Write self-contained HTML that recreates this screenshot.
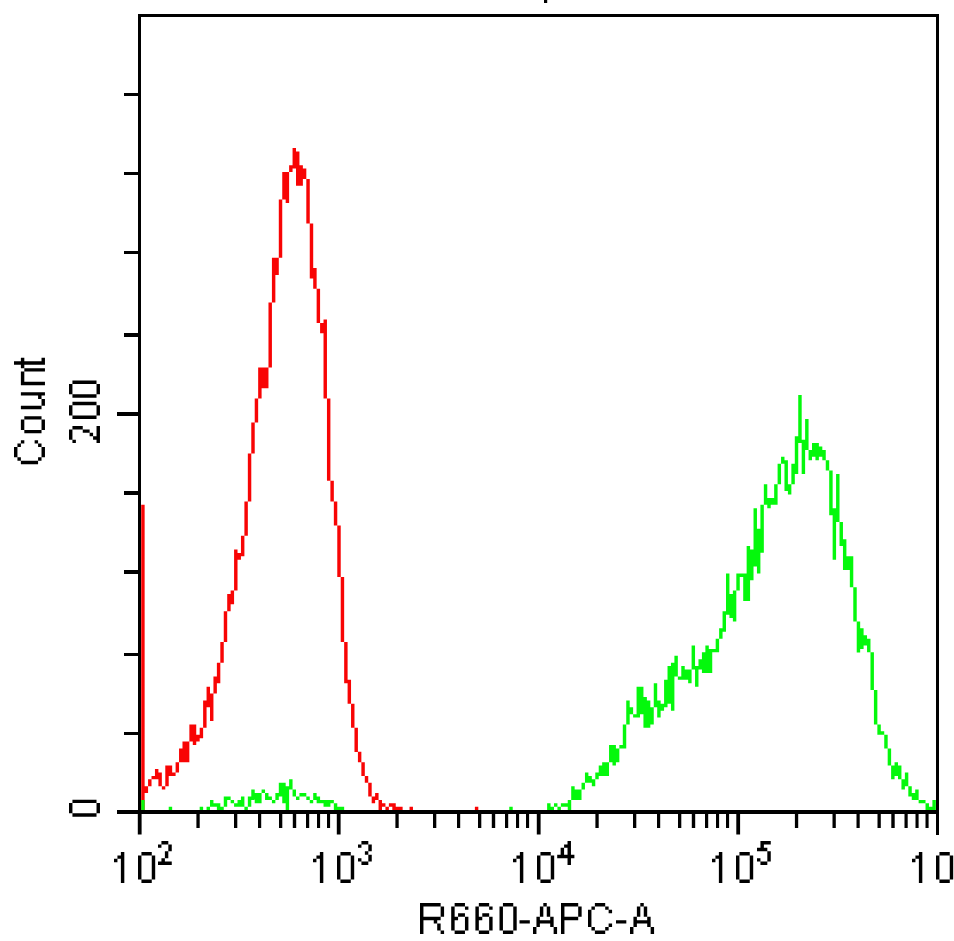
<!DOCTYPE html>
<html><head><meta charset="utf-8"><title>R660-APC-A histogram</title>
<style>
html,body{margin:0;padding:0;width:954px;height:941px;overflow:hidden;background:#fff;font-family:"Liberation Sans",sans-serif;}
svg{display:block;position:absolute;left:0;top:0;}
</style></head><body>
<svg width="954" height="941" viewBox="0 0 954 941">
<rect width="954" height="941" fill="#fff"/>
<path fill="#f80404" d="M141.2 504.84h3.44v305.36h-3.44zM144.64 786.18h3.44v6.86h-3.44zM148.08 779.32h3.44v6.86h-3.44zM151.52 775.89h3.44v3.43h-3.44zM154.96 769.03h3.44v10.29h-3.44zM158.4 772.46h3.44v13.72h-3.44zM161.84 786.18h3.44v3.43h-3.44zM165.28 765.6h3.44v20.59h-3.44zM168.72 765.6h3.44v10.29h-3.44zM172.16 772.46h3.44v3.43h-3.44zM175.6 762.17h3.44v10.29h-3.44zM179.04 748.44h3.44v13.72h-3.44zM182.48 741.58h3.44v20.59h-3.44zM185.92 741.58h3.44v20.59h-3.44zM189.36 724.43h3.44v17.15h-3.44zM192.8 724.43h3.44v20.59h-3.44zM196.24 734.72h3.44v6.86h-3.44zM199.68 727.86h3.44v10.29h-3.44zM203.12 700.41h3.44v27.45h-3.44zM206.56 686.68h3.44v20.59h-3.44zM210 693.55h3.44v27.45h-3.44zM213.44 676.39h3.44v17.15h-3.44zM216.88 662.67h3.44v20.59h-3.44zM220.32 642.08h3.44v20.59h-3.44zM223.76 611.2h3.44v30.88h-3.44zM227.2 594.05h3.44v17.15h-3.44zM230.64 590.62h3.44v13.72h-3.44zM234.08 549.44h3.44v41.17h-3.44zM237.52 552.88h3.44v6.86h-3.44zM240.96 535.72h3.44v20.59h-3.44zM244.4 501.41h3.44v34.31h-3.44zM247.84 453.38h3.44v48.03h-3.44zM251.28 422.5h3.44v30.88h-3.44zM254.72 398.48h3.44v24.02h-3.44zM258.16 367.6h3.44v30.88h-3.44zM261.6 367.6h3.44v20.59h-3.44zM265.04 367.6h3.44v20.59h-3.44zM268.48 302.41h3.44v65.19h-3.44zM271.92 257.81h3.44v44.6h-3.44zM275.36 257.81h3.44v17.15h-3.44zM278.8 199.48h3.44v58.33h-3.44zM282.24 172.03h3.44v27.45h-3.44zM285.68 172.03h3.44v30.88h-3.44zM289.12 165.17h3.44v6.86h-3.44zM292.56 148.02h3.44v20.59h-3.44zM296 151.45h3.44v34.31h-3.44zM299.44 165.17h3.44v20.59h-3.44zM302.88 168.6h3.44v10.29h-3.44zM306.32 178.9h3.44v44.6h-3.44zM309.76 223.5h3.44v54.9h-3.44zM313.2 268.1h3.44v20.59h-3.44zM316.64 288.69h3.44v34.31h-3.44zM320.08 323h3.44v10.29h-3.44zM323.52 319.57h3.44v78.91h-3.44zM326.96 398.48h3.44v82.34h-3.44zM330.4 480.82h3.44v20.59h-3.44zM333.84 501.41h3.44v24.02h-3.44zM337.28 525.43h3.44v51.47h-3.44zM340.72 576.89h3.44v65.19h-3.44zM344.16 642.08h3.44v41.17h-3.44zM347.6 679.82h3.44v24.02h-3.44zM351.04 703.84h3.44v24.02h-3.44zM354.48 727.86h3.44v24.02h-3.44zM357.92 751.87h3.44v10.29h-3.44zM361.36 762.17h3.44v13.72h-3.44zM364.8 775.89h3.44v6.86h-3.44zM368.24 782.75h3.44v13.72h-3.44zM371.68 796.48h3.44v6.86h-3.44zM375.12 793.05h3.44v6.86h-3.44zM378.56 799.91h3.44v10.29h-3.44zM382 803.34h3.44v3.43h-3.44zM385.44 806.77h3.44v3.43h-3.44zM388.88 803.34h3.44v3.43h-3.44zM392.32 803.34h3.44v6.86h-3.44zM395.76 806.77h3.44v3.43h-3.44zM399.2 806.77h3.44v3.43h-3.44zM409.52 806.77h3.44v3.43h-3.44zM474.88 806.77h3.44v3.43h-3.44z"/>
<path fill="#04f80c" d="M141.2 799.91h3.44v10.29h-3.44zM168.72 806.77h3.44v3.43h-3.44zM199.68 806.77h3.44v3.43h-3.44zM206.56 806.77h3.44v3.43h-3.44zM210 799.91h3.44v6.86h-3.44zM213.44 803.34h3.44v3.43h-3.44zM216.88 803.34h3.44v6.86h-3.44zM220.32 806.77h3.44v3.43h-3.44zM223.76 796.48h3.44v10.29h-3.44zM227.2 796.48h3.44v3.43h-3.44zM230.64 799.91h3.44v3.43h-3.44zM234.08 803.34h3.44v3.43h-3.44zM237.52 799.91h3.44v6.86h-3.44zM240.96 796.48h3.44v10.29h-3.44zM244.4 806.77h3.44v3.43h-3.44zM247.84 796.48h3.44v10.29h-3.44zM251.28 789.61h3.44v10.29h-3.44zM254.72 793.05h3.44v10.29h-3.44zM258.16 793.05h3.44v10.29h-3.44zM261.6 789.61h3.44v3.43h-3.44zM265.04 793.05h3.44v6.86h-3.44zM268.48 796.48h3.44v3.43h-3.44zM271.92 799.91h3.44v3.43h-3.44zM275.36 793.05h3.44v6.86h-3.44zM278.8 782.75h3.44v13.72h-3.44zM282.24 782.75h3.44v20.59h-3.44zM285.68 786.18h3.44v24.02h-3.44zM289.12 779.32h3.44v10.29h-3.44zM292.56 789.61h3.44v6.86h-3.44zM296 796.48h3.44v3.43h-3.44zM299.44 793.05h3.44v3.43h-3.44zM302.88 793.05h3.44v3.43h-3.44zM306.32 796.48h3.44v3.43h-3.44zM309.76 799.91h3.44v3.43h-3.44zM313.2 793.05h3.44v6.86h-3.44zM316.64 796.48h3.44v6.86h-3.44zM320.08 799.91h3.44v3.43h-3.44zM323.52 799.91h3.44v6.86h-3.44zM326.96 799.91h3.44v6.86h-3.44zM330.4 799.91h3.44v3.43h-3.44zM333.84 803.34h3.44v6.86h-3.44zM337.28 806.77h3.44v3.43h-3.44zM340.72 806.77h3.44v3.43h-3.44zM509.28 806.77h3.44v3.43h-3.44zM547.12 803.34h3.44v6.86h-3.44zM550.56 806.77h3.44v3.43h-3.44zM554 803.34h3.44v3.43h-3.44zM557.44 806.77h3.44v3.43h-3.44zM560.88 803.34h3.44v3.43h-3.44zM564.32 803.34h3.44v3.43h-3.44zM567.76 799.91h3.44v10.29h-3.44zM571.2 786.18h3.44v13.72h-3.44zM574.64 789.61h3.44v10.29h-3.44zM578.08 789.61h3.44v10.29h-3.44zM581.52 782.75h3.44v6.86h-3.44zM584.96 772.46h3.44v10.29h-3.44zM588.4 775.89h3.44v6.86h-3.44zM591.84 779.32h3.44v6.86h-3.44zM595.28 772.46h3.44v6.86h-3.44zM598.72 765.6h3.44v10.29h-3.44zM602.16 762.17h3.44v13.72h-3.44zM605.6 762.17h3.44v13.72h-3.44zM609.04 745.01h3.44v17.15h-3.44zM612.48 745.01h3.44v20.59h-3.44zM615.92 748.44h3.44v13.72h-3.44zM619.36 745.01h3.44v3.43h-3.44zM622.8 724.43h3.44v24.02h-3.44zM626.24 700.41h3.44v24.02h-3.44zM629.68 707.27h3.44v6.86h-3.44zM633.12 714.13h3.44v3.43h-3.44zM636.56 686.68h3.44v30.88h-3.44zM640 686.68h3.44v27.45h-3.44zM643.44 696.98h3.44v30.88h-3.44zM646.88 700.41h3.44v27.45h-3.44zM650.32 707.27h3.44v17.16h-3.44zM653.76 683.25h3.44v24.02h-3.44zM657.2 700.41h3.44v17.16h-3.44zM660.64 703.84h3.44v6.86h-3.44zM664.08 679.82h3.44v27.45h-3.44zM667.52 666.1h3.44v37.74h-3.44zM670.96 662.67h3.44v48.03h-3.44zM674.4 655.81h3.44v20.59h-3.44zM677.84 676.39h3.44v3.43h-3.44zM681.28 666.1h3.44v13.72h-3.44zM684.72 669.53h3.44v10.29h-3.44zM688.16 669.53h3.44v13.72h-3.44zM691.6 645.51h3.44v24.02h-3.44zM695.04 666.1h3.44v20.59h-3.44zM698.48 659.24h3.44v10.29h-3.44zM701.92 652.37h3.44v20.59h-3.44zM705.36 645.51h3.44v27.45h-3.44zM708.8 648.94h3.44v24.02h-3.44zM712.24 648.94h3.44v3.43h-3.44zM715.68 638.65h3.44v13.72h-3.44zM719.12 628.36h3.44v10.29h-3.44zM722.56 611.2h3.44v20.59h-3.44zM726 573.46h3.44v41.17h-3.44zM729.44 594.05h3.44v24.02h-3.44zM732.88 590.62h3.44v30.88h-3.44zM736.32 573.46h3.44v17.15h-3.44zM739.76 573.46h3.44v3.43h-3.44zM743.2 573.46h3.44v27.45h-3.44zM746.64 546.01h3.44v54.9h-3.44zM750.08 549.44h3.44v30.88h-3.44zM753.52 508.27h3.44v58.33h-3.44zM756.96 528.86h3.44v44.6h-3.44zM760.4 504.84h3.44v48.03h-3.44zM763.84 484.26h3.44v20.59h-3.44zM767.28 497.98h3.44v10.29h-3.44zM770.72 497.98h3.44v6.86h-3.44zM774.16 484.26h3.44v20.59h-3.44zM777.6 463.67h3.44v20.59h-3.44zM781.04 456.81h3.44v6.86h-3.44zM784.48 460.24h3.44v30.88h-3.44zM787.92 484.26h3.44v10.29h-3.44zM791.36 463.67h3.44v20.59h-3.44zM794.8 436.22h3.44v37.74h-3.44zM798.24 395.05h3.44v48.03h-3.44zM801.68 439.65h3.44v34.31h-3.44zM805.12 419.07h3.44v30.88h-3.44zM808.56 449.95h3.44v10.29h-3.44zM812 443.08h3.44v13.72h-3.44zM815.44 443.08h3.44v17.16h-3.44zM818.88 446.51h3.44v10.29h-3.44zM822.32 449.95h3.44v10.29h-3.44zM825.76 460.24h3.44v10.29h-3.44zM829.2 470.53h3.44v44.6h-3.44zM832.64 508.27h3.44v51.47h-3.44zM836.08 473.96h3.44v48.03h-3.44zM839.52 522h3.44v24.02h-3.44zM842.96 539.15h3.44v30.88h-3.44zM846.4 556.31h3.44v13.72h-3.44zM849.84 556.31h3.44v30.88h-3.44zM853.28 587.19h3.44v34.31h-3.44zM856.72 621.5h3.44v30.88h-3.44zM860.16 628.36h3.44v20.59h-3.44zM863.6 635.22h3.44v10.29h-3.44zM867.04 638.65h3.44v13.72h-3.44zM870.48 652.37h3.44v37.74h-3.44zM873.92 690.12h3.44v34.31h-3.44zM877.36 724.43h3.44v10.29h-3.44zM880.8 731.29h3.44v3.43h-3.44zM884.24 734.72h3.44v13.72h-3.44zM887.68 748.44h3.44v17.16h-3.44zM891.12 765.6h3.44v13.72h-3.44zM894.56 762.17h3.44v13.72h-3.44zM898 765.6h3.44v13.72h-3.44zM901.44 779.32h3.44v10.29h-3.44zM904.88 772.46h3.44v13.72h-3.44zM908.32 786.18h3.44v10.29h-3.44zM911.76 793.05h3.44v6.86h-3.44zM915.2 789.61h3.44v10.29h-3.44zM918.64 799.91h3.44v3.43h-3.44zM922.08 799.91h3.44v3.43h-3.44zM925.52 803.34h3.44v6.86h-3.44zM928.96 806.77h3.44v3.43h-3.44zM932.4 799.91h3.44v10.29h-3.44z"/>
<path fill="#000" d="M138 14h3v800h-3zM138 14h801v3h-801zM936 14h3v821h-3zM117 810h822v4h-822zM124 93h14v3h-14zM124 172h14v3h-14zM124 251h14v3h-14zM124 333h14v4h-14zM124 491h14v4h-14zM124 570h14v4h-14zM124 653h14v3h-14zM124 732h14v3h-14zM117 412h21v4h-21zM137.8 814h3.8v20.5h-3.8zM196.4 814h3.3v14h-3.3zM234 814h3.3v14h-3.3zM258 814h3.2v14h-3.2zM279 814h3.3v14h-3.3zM292.8 814h3.4v14h-3.4zM306 814h3.2v14h-3.2zM317 814h3.1v14h-3.1zM327 814h3.1v14h-3.1zM336.8 814h3.8v20.5h-3.8zM395.4 814h3.3v14h-3.3zM433 814h3.3v14h-3.3zM457 814h3.2v14h-3.2zM478 814h3.3v14h-3.3zM491.8 814h3.4v14h-3.4zM505 814h3.2v14h-3.2zM516 814h3.1v14h-3.1zM526 814h3.1v14h-3.1zM536.8 814h3.8v20.5h-3.8zM595.4 814h3.3v14h-3.3zM633 814h3.3v14h-3.3zM657 814h3.2v14h-3.2zM678 814h3.3v14h-3.3zM691.8 814h3.4v14h-3.4zM705 814h3.2v14h-3.2zM716 814h3.1v14h-3.1zM726 814h3.1v14h-3.1zM736.3 814h3.8v20.5h-3.8zM794.9 814h3.3v14h-3.3zM832.5 814h3.3v14h-3.3zM856.5 814h3.2v14h-3.2zM877.5 814h3.3v14h-3.3zM891.3 814h3.4v14h-3.4zM904.5 814h3.2v14h-3.2zM915.5 814h3.1v14h-3.1zM925.5 814h3.1v14h-3.1zM544 0h3.2v3h-3.2zM120.88 852h3.44v3.43h-3.44zM117.44 855.43h6.88v3.43h-6.88zM114 858.86h3.44v3.43h-3.44zM120.88 858.86h3.44v3.43h-3.44zM120.88 862.29h3.44v3.43h-3.44zM120.88 865.72h3.44v3.43h-3.44zM120.88 869.15h3.44v3.43h-3.44zM120.88 872.59h3.44v3.43h-3.44zM120.88 876.02h3.44v3.43h-3.44zM120.88 879.45h3.44v3.43h-3.44zM319.88 852h3.44v3.43h-3.44zM316.44 855.43h6.88v3.43h-6.88zM313 858.86h3.44v3.43h-3.44zM319.88 858.86h3.44v3.43h-3.44zM319.88 862.29h3.44v3.43h-3.44zM319.88 865.72h3.44v3.43h-3.44zM319.88 869.15h3.44v3.43h-3.44zM319.88 872.59h3.44v3.43h-3.44zM319.88 876.02h3.44v3.43h-3.44zM319.88 879.45h3.44v3.43h-3.44zM519.88 852h3.44v3.43h-3.44zM516.44 855.43h6.88v3.43h-6.88zM513 858.86h3.44v3.43h-3.44zM519.88 858.86h3.44v3.43h-3.44zM519.88 862.29h3.44v3.43h-3.44zM519.88 865.72h3.44v3.43h-3.44zM519.88 869.15h3.44v3.43h-3.44zM519.88 872.59h3.44v3.43h-3.44zM519.88 876.02h3.44v3.43h-3.44zM519.88 879.45h3.44v3.43h-3.44zM718.88 852h3.44v3.43h-3.44zM715.44 855.43h6.88v3.43h-6.88zM712 858.86h3.44v3.43h-3.44zM718.88 858.86h3.44v3.43h-3.44zM718.88 862.29h3.44v3.43h-3.44zM718.88 865.72h3.44v3.43h-3.44zM718.88 869.15h3.44v3.43h-3.44zM718.88 872.59h3.44v3.43h-3.44zM718.88 876.02h3.44v3.43h-3.44zM718.88 879.45h3.44v3.43h-3.44zM918.88 852h3.44v3.43h-3.44zM915.44 855.43h6.88v3.43h-6.88zM912 858.86h3.44v3.43h-3.44zM918.88 858.86h3.44v3.43h-3.44zM918.88 862.29h3.44v3.43h-3.44zM918.88 865.72h3.44v3.43h-3.44zM918.88 869.15h3.44v3.43h-3.44zM918.88 872.59h3.44v3.43h-3.44zM918.88 876.02h3.44v3.43h-3.44zM918.88 879.45h3.44v3.43h-3.44zM141.44 852h10.32v3.43h-10.32zM138 855.43h3.44v3.43h-3.44zM151.76 855.43h3.44v3.43h-3.44zM138 858.86h3.44v3.43h-3.44zM151.76 858.86h3.44v3.43h-3.44zM138 862.29h3.44v3.43h-3.44zM151.76 862.29h3.44v3.43h-3.44zM138 865.72h3.44v3.43h-3.44zM151.76 865.72h3.44v3.43h-3.44zM138 869.15h3.44v3.43h-3.44zM151.76 869.15h3.44v3.43h-3.44zM138 872.59h3.44v3.43h-3.44zM151.76 872.59h3.44v3.43h-3.44zM138 876.02h3.44v3.43h-3.44zM151.76 876.02h3.44v3.43h-3.44zM141.44 879.45h10.32v3.43h-10.32zM340.44 852h10.32v3.43h-10.32zM337 855.43h3.44v3.43h-3.44zM350.76 855.43h3.44v3.43h-3.44zM337 858.86h3.44v3.43h-3.44zM350.76 858.86h3.44v3.43h-3.44zM337 862.29h3.44v3.43h-3.44zM350.76 862.29h3.44v3.43h-3.44zM337 865.72h3.44v3.43h-3.44zM350.76 865.72h3.44v3.43h-3.44zM337 869.15h3.44v3.43h-3.44zM350.76 869.15h3.44v3.43h-3.44zM337 872.59h3.44v3.43h-3.44zM350.76 872.59h3.44v3.43h-3.44zM337 876.02h3.44v3.43h-3.44zM350.76 876.02h3.44v3.43h-3.44zM340.44 879.45h10.32v3.43h-10.32zM540.44 852h10.32v3.43h-10.32zM537 855.43h3.44v3.43h-3.44zM550.76 855.43h3.44v3.43h-3.44zM537 858.86h3.44v3.43h-3.44zM550.76 858.86h3.44v3.43h-3.44zM537 862.29h3.44v3.43h-3.44zM550.76 862.29h3.44v3.43h-3.44zM537 865.72h3.44v3.43h-3.44zM550.76 865.72h3.44v3.43h-3.44zM537 869.15h3.44v3.43h-3.44zM550.76 869.15h3.44v3.43h-3.44zM537 872.59h3.44v3.43h-3.44zM550.76 872.59h3.44v3.43h-3.44zM537 876.02h3.44v3.43h-3.44zM550.76 876.02h3.44v3.43h-3.44zM540.44 879.45h10.32v3.43h-10.32zM739.44 852h10.32v3.43h-10.32zM736 855.43h3.44v3.43h-3.44zM749.76 855.43h3.44v3.43h-3.44zM736 858.86h3.44v3.43h-3.44zM749.76 858.86h3.44v3.43h-3.44zM736 862.29h3.44v3.43h-3.44zM749.76 862.29h3.44v3.43h-3.44zM736 865.72h3.44v3.43h-3.44zM749.76 865.72h3.44v3.43h-3.44zM736 869.15h3.44v3.43h-3.44zM749.76 869.15h3.44v3.43h-3.44zM736 872.59h3.44v3.43h-3.44zM749.76 872.59h3.44v3.43h-3.44zM736 876.02h3.44v3.43h-3.44zM749.76 876.02h3.44v3.43h-3.44zM739.44 879.45h10.32v3.43h-10.32zM939.44 852h10.32v3.43h-10.32zM936 855.43h3.44v3.43h-3.44zM949.76 855.43h3.44v3.43h-3.44zM936 858.86h3.44v3.43h-3.44zM949.76 858.86h3.44v3.43h-3.44zM936 862.29h3.44v3.43h-3.44zM949.76 862.29h3.44v3.43h-3.44zM936 865.72h3.44v3.43h-3.44zM949.76 865.72h3.44v3.43h-3.44zM936 869.15h3.44v3.43h-3.44zM949.76 869.15h3.44v3.43h-3.44zM936 872.59h3.44v3.43h-3.44zM949.76 872.59h3.44v3.43h-3.44zM936 876.02h3.44v3.43h-3.44zM949.76 876.02h3.44v3.43h-3.44zM939.44 879.45h10.32v3.43h-10.32zM161.44 841h6.88v3.43h-6.88zM158 844.43h3.44v3.43h-3.44zM168.32 844.43h3.44v3.43h-3.44zM168.32 847.86h3.44v3.43h-3.44zM164.88 851.29h3.44v3.43h-3.44zM164.88 854.72h3.44v3.43h-3.44zM161.44 858.15h3.44v3.43h-3.44zM158 861.59h13.76v3.43h-13.76zM361.44 841h6.88v3.43h-6.88zM358 844.43h3.44v3.43h-3.44zM368.32 844.43h3.44v3.43h-3.44zM368.32 847.86h3.44v3.43h-3.44zM364.88 851.29h3.44v3.43h-3.44zM368.32 854.72h3.44v3.43h-3.44zM358 858.15h3.44v3.43h-3.44zM368.32 858.15h3.44v3.43h-3.44zM361.44 861.59h6.88v3.43h-6.88zM567.52 841h3.44v3.43h-3.44zM564.08 844.43h6.88v3.43h-6.88zM560.64 847.86h3.44v3.43h-3.44zM567.52 847.86h3.44v3.43h-3.44zM560.64 851.29h3.44v3.43h-3.44zM567.52 851.29h3.44v3.43h-3.44zM557.2 854.72h17.2v3.43h-17.2zM567.52 858.15h3.44v3.43h-3.44zM567.52 861.59h3.44v3.43h-3.44zM760.44 841h10.32v3.43h-10.32zM760.44 844.43h3.44v3.43h-3.44zM757 847.86h10.32v3.43h-10.32zM767.32 851.29h3.44v3.43h-3.44zM767.32 854.72h3.44v3.43h-3.44zM757 858.15h3.44v3.43h-3.44zM767.32 858.15h3.44v3.43h-3.44zM760.44 861.59h6.88v3.43h-6.88zM420 903h20.64v3.43h-20.64zM420 906.43h3.44v3.43h-3.44zM440.64 906.43h3.44v3.43h-3.44zM420 909.86h3.44v3.43h-3.44zM440.64 909.86h3.44v3.43h-3.44zM420 913.29h3.44v3.43h-3.44zM440.64 913.29h3.44v3.43h-3.44zM420 916.72h20.64v3.43h-20.64zM420 920.15h3.44v3.43h-3.44zM433.76 920.15h3.44v3.43h-3.44zM420 923.59h3.44v3.43h-3.44zM437.2 923.59h3.44v3.43h-3.44zM420 927.02h3.44v3.43h-3.44zM437.2 927.02h3.44v3.43h-3.44zM420 930.45h3.44v3.43h-3.44zM440.64 930.45h3.44v3.43h-3.44zM454.64 903h10.32v3.43h-10.32zM451.2 906.43h3.44v3.43h-3.44zM464.96 906.43h3.44v3.43h-3.44zM451.2 909.86h3.44v3.43h-3.44zM451.2 913.29h3.44v3.43h-3.44zM458.08 913.29h6.88v3.43h-6.88zM451.2 916.72h6.88v3.43h-6.88zM464.96 916.72h3.44v3.43h-3.44zM451.2 920.15h3.44v3.43h-3.44zM464.96 920.15h3.44v3.43h-3.44zM451.2 923.59h3.44v3.43h-3.44zM464.96 923.59h3.44v3.43h-3.44zM451.2 927.02h3.44v3.43h-3.44zM464.96 927.02h3.44v3.43h-3.44zM454.64 930.45h10.32v3.43h-10.32zM478.84 903h10.32v3.43h-10.32zM475.4 906.43h3.44v3.43h-3.44zM489.16 906.43h3.44v3.43h-3.44zM475.4 909.86h3.44v3.43h-3.44zM475.4 913.29h3.44v3.43h-3.44zM482.28 913.29h6.88v3.43h-6.88zM475.4 916.72h6.88v3.43h-6.88zM489.16 916.72h3.44v3.43h-3.44zM475.4 920.15h3.44v3.43h-3.44zM489.16 920.15h3.44v3.43h-3.44zM475.4 923.59h3.44v3.43h-3.44zM489.16 923.59h3.44v3.43h-3.44zM475.4 927.02h3.44v3.43h-3.44zM489.16 927.02h3.44v3.43h-3.44zM478.84 930.45h10.32v3.43h-10.32zM502.94 903h10.32v3.43h-10.32zM499.5 906.43h3.44v3.43h-3.44zM513.26 906.43h3.44v3.43h-3.44zM499.5 909.86h3.44v3.43h-3.44zM513.26 909.86h3.44v3.43h-3.44zM499.5 913.29h3.44v3.43h-3.44zM513.26 913.29h3.44v3.43h-3.44zM499.5 916.72h3.44v3.43h-3.44zM513.26 916.72h3.44v3.43h-3.44zM499.5 920.15h3.44v3.43h-3.44zM513.26 920.15h3.44v3.43h-3.44zM499.5 923.59h3.44v3.43h-3.44zM513.26 923.59h3.44v3.43h-3.44zM499.5 927.02h3.44v3.43h-3.44zM513.26 927.02h3.44v3.43h-3.44zM502.94 930.45h10.32v3.43h-10.32zM519.5 920.15h10.32v3.43h-10.32zM543.32 903h3.44v3.43h-3.44zM539.88 906.43h3.44v3.43h-3.44zM546.76 906.43h3.44v3.43h-3.44zM539.88 909.86h3.44v3.43h-3.44zM546.76 909.86h3.44v3.43h-3.44zM539.88 913.29h3.44v3.43h-3.44zM546.76 913.29h3.44v3.43h-3.44zM536.44 916.72h3.44v3.43h-3.44zM550.2 916.72h3.44v3.43h-3.44zM536.44 920.15h17.2v3.43h-17.2zM536.44 923.59h3.44v3.43h-3.44zM550.2 923.59h3.44v3.43h-3.44zM533 927.02h3.44v3.43h-3.44zM553.64 927.02h3.44v3.43h-3.44zM533 930.45h3.44v3.43h-3.44zM553.64 930.45h3.44v3.43h-3.44zM561 903h17.2v3.43h-17.2zM561 906.43h3.44v3.43h-3.44zM578.2 906.43h3.44v3.43h-3.44zM561 909.86h3.44v3.43h-3.44zM578.2 909.86h3.44v3.43h-3.44zM561 913.29h3.44v3.43h-3.44zM578.2 913.29h3.44v3.43h-3.44zM561 916.72h17.2v3.43h-17.2zM561 920.15h3.44v3.43h-3.44zM561 923.59h3.44v3.43h-3.44zM561 927.02h3.44v3.43h-3.44zM561 930.45h3.44v3.43h-3.44zM594.88 903h10.32v3.43h-10.32zM591.44 906.43h3.44v3.43h-3.44zM605.2 906.43h3.44v3.43h-3.44zM588 909.86h3.44v3.43h-3.44zM608.64 909.86h3.44v3.43h-3.44zM588 913.29h3.44v3.43h-3.44zM588 916.72h3.44v3.43h-3.44zM588 920.15h3.44v3.43h-3.44zM588 923.59h3.44v3.43h-3.44zM608.64 923.59h3.44v3.43h-3.44zM591.44 927.02h3.44v3.43h-3.44zM605.2 927.02h3.44v3.43h-3.44zM594.88 930.45h10.32v3.43h-10.32zM616 920.15h10.32v3.43h-10.32zM640.32 903h3.44v3.43h-3.44zM636.88 906.43h3.44v3.43h-3.44zM643.76 906.43h3.44v3.43h-3.44zM636.88 909.86h3.44v3.43h-3.44zM643.76 909.86h3.44v3.43h-3.44zM636.88 913.29h3.44v3.43h-3.44zM643.76 913.29h3.44v3.43h-3.44zM633.44 916.72h3.44v3.43h-3.44zM647.2 916.72h3.44v3.43h-3.44zM633.44 920.15h17.2v3.43h-17.2zM633.44 923.59h3.44v3.43h-3.44zM647.2 923.59h3.44v3.43h-3.44zM630 927.02h3.44v3.43h-3.44zM650.64 927.02h3.44v3.43h-3.44zM630 930.45h3.44v3.43h-3.44zM650.64 930.45h3.44v3.43h-3.44zM14 447.04h3.44v10.29h-3.44zM17.44 457.34h3.44v3.43h-3.44zM17.44 443.61h3.44v3.43h-3.44zM20.88 460.77h3.44v3.43h-3.44zM20.88 440.18h3.44v3.43h-3.44zM24.32 460.77h3.44v3.43h-3.44zM27.76 460.77h3.44v3.43h-3.44zM31.2 460.77h3.44v3.43h-3.44zM34.64 460.77h3.44v3.43h-3.44zM34.64 440.18h3.44v3.43h-3.44zM38.08 457.34h3.44v3.43h-3.44zM38.08 443.61h3.44v3.43h-3.44zM41.52 447.04h3.44v10.29h-3.44zM20.88 419.6h3.44v10.29h-3.44zM24.32 429.89h3.44v3.43h-3.44zM24.32 416.17h3.44v3.43h-3.44zM27.76 429.89h3.44v3.43h-3.44zM27.76 416.17h3.44v3.43h-3.44zM31.2 429.89h3.44v3.43h-3.44zM31.2 416.17h3.44v3.43h-3.44zM34.64 429.89h3.44v3.43h-3.44zM34.64 416.17h3.44v3.43h-3.44zM38.08 429.89h3.44v3.43h-3.44zM38.08 416.17h3.44v3.43h-3.44zM41.52 419.6h3.44v10.29h-3.44zM20.88 405.87h3.44v3.43h-3.44zM20.88 392.15h3.44v3.43h-3.44zM24.32 405.87h3.44v3.43h-3.44zM24.32 392.15h3.44v3.43h-3.44zM27.76 405.87h3.44v3.43h-3.44zM27.76 392.15h3.44v3.43h-3.44zM31.2 405.87h3.44v3.43h-3.44zM31.2 392.15h3.44v3.43h-3.44zM34.64 405.87h3.44v3.43h-3.44zM34.64 392.15h3.44v3.43h-3.44zM38.08 405.87h3.44v3.43h-3.44zM38.08 392.15h3.44v6.86h-3.44zM41.52 399.01h3.44v6.86h-3.44zM41.52 392.15h3.44v3.43h-3.44zM20.88 371.56h3.44v13.72h-3.44zM24.32 381.86h3.44v3.43h-3.44zM24.32 368.13h3.44v3.43h-3.44zM27.76 381.86h3.44v3.43h-3.44zM27.76 368.13h3.44v3.43h-3.44zM31.2 381.86h3.44v3.43h-3.44zM31.2 368.13h3.44v3.43h-3.44zM34.64 381.86h3.44v3.43h-3.44zM34.64 368.13h3.44v3.43h-3.44zM38.08 381.86h3.44v3.43h-3.44zM38.08 368.13h3.44v3.43h-3.44zM41.52 381.86h3.44v3.43h-3.44zM41.52 368.13h3.44v3.43h-3.44zM14 361.27h3.44v3.43h-3.44zM17.44 361.27h3.44v3.43h-3.44zM20.88 357.84h3.44v10.29h-3.44zM24.32 361.27h3.44v3.43h-3.44zM27.76 361.27h3.44v3.43h-3.44zM31.2 361.27h3.44v3.43h-3.44zM34.64 361.27h3.44v3.43h-3.44zM38.08 361.27h3.44v3.43h-3.44zM41.52 357.84h3.44v6.86h-3.44zM69 429.38h3.44v10.29h-3.44zM72.44 439.67h3.44v3.43h-3.44zM72.44 425.95h3.44v3.43h-3.44zM75.88 425.95h3.44v3.43h-3.44zM79.32 425.95h3.44v3.43h-3.44zM82.76 429.38h3.44v3.43h-3.44zM86.2 429.38h3.44v3.43h-3.44zM89.64 432.81h3.44v3.43h-3.44zM93.08 436.24h3.44v3.43h-3.44zM96.52 425.95h3.44v17.16h-3.44zM69 405.18h3.44v10.29h-3.44zM72.44 415.47h3.44v3.43h-3.44zM72.44 401.75h3.44v3.43h-3.44zM75.88 415.47h3.44v3.43h-3.44zM75.88 401.75h3.44v3.43h-3.44zM79.32 415.47h3.44v3.43h-3.44zM79.32 401.75h3.44v3.43h-3.44zM82.76 415.47h3.44v3.43h-3.44zM82.76 401.75h3.44v3.43h-3.44zM86.2 415.47h3.44v3.43h-3.44zM86.2 401.75h3.44v3.43h-3.44zM89.64 415.47h3.44v3.43h-3.44zM89.64 401.75h3.44v3.43h-3.44zM93.08 415.47h3.44v3.43h-3.44zM93.08 401.75h3.44v3.43h-3.44zM96.52 405.18h3.44v10.29h-3.44zM69 383.98h3.44v10.29h-3.44zM72.44 394.27h3.44v3.43h-3.44zM72.44 380.54h3.44v3.43h-3.44zM75.88 394.27h3.44v3.43h-3.44zM75.88 380.54h3.44v3.43h-3.44zM79.32 394.27h3.44v3.43h-3.44zM79.32 380.54h3.44v3.43h-3.44zM82.76 394.27h3.44v3.43h-3.44zM82.76 380.54h3.44v3.43h-3.44zM86.2 394.27h3.44v3.43h-3.44zM86.2 380.54h3.44v3.43h-3.44zM89.64 394.27h3.44v3.43h-3.44zM89.64 380.54h3.44v3.43h-3.44zM93.08 394.27h3.44v3.43h-3.44zM93.08 380.54h3.44v3.43h-3.44zM96.52 383.98h3.44v10.29h-3.44zM69 803.08h3.44v10.29h-3.44zM72.44 813.37h3.44v3.43h-3.44zM72.44 799.64h3.44v3.43h-3.44zM75.88 813.37h3.44v3.43h-3.44zM75.88 799.64h3.44v3.43h-3.44zM79.32 813.37h3.44v3.43h-3.44zM79.32 799.64h3.44v3.43h-3.44zM82.76 813.37h3.44v3.43h-3.44zM82.76 799.64h3.44v3.43h-3.44zM86.2 813.37h3.44v3.43h-3.44zM86.2 799.64h3.44v3.43h-3.44zM89.64 813.37h3.44v3.43h-3.44zM89.64 799.64h3.44v3.43h-3.44zM93.08 813.37h3.44v3.43h-3.44zM93.08 799.64h3.44v3.43h-3.44zM96.52 803.08h3.44v10.29h-3.44z"/>
</svg>
</body></html>
